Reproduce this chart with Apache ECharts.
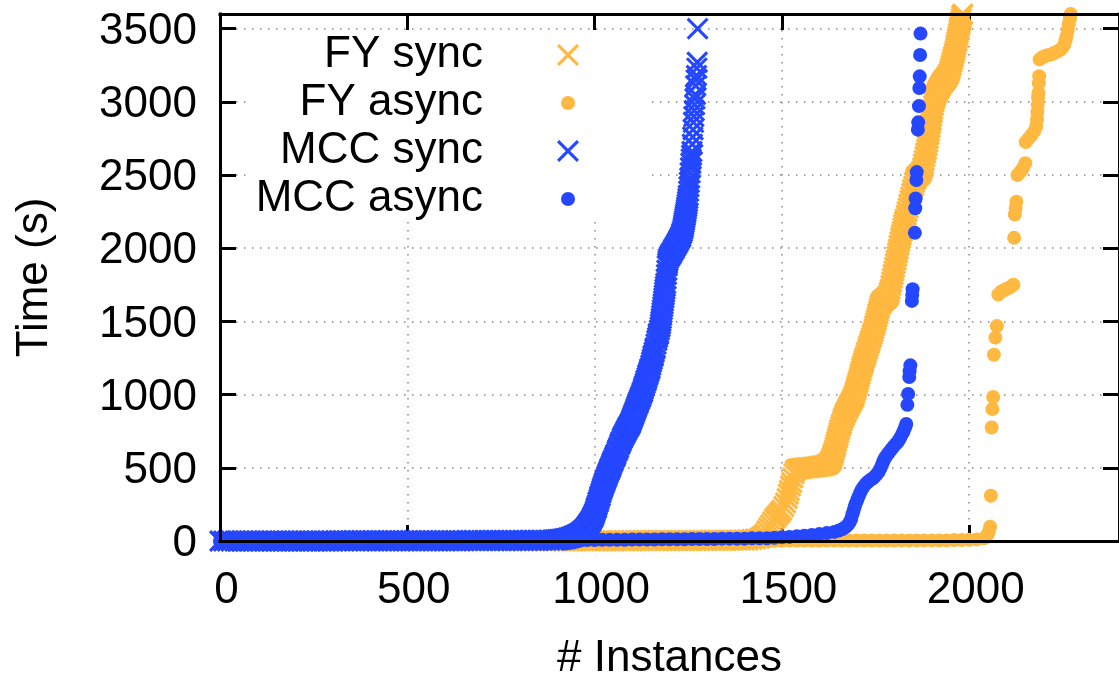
<!DOCTYPE html>
<html>
<head>
<meta charset="utf-8">
<script src="https://cdn.jsdelivr.net/npm/echarts@6/dist/echarts.min.js"></script>
<style>html,body{margin:0;padding:0;background:#fff;}#chart{width:1119px;height:686px;}</style>
</head>
<body>
<div id="chart"></div>
<script>
// ---- data: [instance rank, time (s)] ----
const seriesNames = ['FY sync', 'FY async', 'MCC sync', 'MCC async'];
const xTicks = [0, 500, 1000, 1500, 2000];
const yTicks = [0, 500, 1000, 1500, 2000, 2500, 3000, 3500];

const fySync = [
[0,0],[30,0],[60,0],[90,0],[120,0],[150,0],[180,0],[210,0],[240,0],[270,0],[300,0],[330,0],[360,0],[390,0],[420,0],[450,0],[480,0],
[510,1],[540,1],[570,1],[600,1],[630,1],[660,1],[690,1],[720,1],[750,1],[780,1],[810,1],[840,1],[870,1],
[880,1],[890,1],[900,1],[910,2],[920,2],[930,2],[940,2],[950,2],[960,2],[970,2],[980,2],[990,2],
[1000,2],[1010,2],[1020,2],[1030,2],[1040,2],[1050,2],[1060,2],[1070,2],[1080,2],[1090,2],[1100,2],
[1110,3],[1120,3],[1130,3],[1140,3],[1150,3],[1160,3],[1170,3],[1180,3],[1190,3],[1200,3],
[1210,3],[1220,3],[1230,3],[1240,3],[1250,3],[1260,3],[1270,3],[1280,3],[1290,3],[1300,3],
[1310,5],[1320,5],[1330,5],[1340,5],[1350,5],[1360,5],[1370,5],[1380,5],[1390,5],[1400,5],
[1410,7],[1420,10],[1430,14],[1440,18],
[1445,25],[1450,35],[1455,50],[1460,70],[1465,90],[1470,110],[1475,130],[1480,150],[1485,165],[1490,180],
[1495,195],[1500,210],[1505,235],[1510,260],[1514,290],[1517,320],[1520,345],[1523,375],[1526,400],[1529,430],
[1532,460],[1536,480],[1540,490],[1546,493],[1552,496],[1558,498],[1564,500],[1570,500],[1576,502],[1582,504],
[1588,506],[1594,508],[1600,510],[1606,513],[1612,516],[1618,520],[1624,528],[1627,535],[1630,545],[1632,556],[1634,570],
[1636,585],[1638,600],[1640,620],[1642,640],[1644,660],[1646,680],[1648,700],[1650,720],[1652,740],[1654,760],[1657,782],
[1659,800],[1662,822],[1664,840],[1667,858],[1670,875],[1673,890],[1676,905],[1679,920],[1682,935],[1685,950],[1688,965],
[1691,980],[1693,995],[1695,1012],[1697,1030],[1699,1048],[1701,1065],[1703,1082],[1705,1100],[1707,1120],[1709,1140],
[1711,1160],[1713,1180],[1715,1198],[1717,1215],[1719,1232],[1721,1250],[1724,1270],[1726,1290],[1729,1310],[1731,1330],
[1734,1350],[1736,1370],[1739,1390],[1741,1410],[1744,1430],[1746,1450],[1748,1470],[1750,1490],[1752,1510],[1754,1530],
[1756,1550],[1758,1570],[1760,1590],[1762,1610],[1765,1625],[1767,1635],[1770,1642],[1773,1648],[1776,1654],[1779,1660],
[1782,1668],[1785,1680],[1787,1700],[1789,1720],[1791,1745],[1793,1770],[1795,1795],[1797,1820],[1799,1845],[1801,1870],
[1803,1895],[1805,1920],[1807,1945],[1809,1970],[1811,1995],[1813,2020],[1815,2045],[1817,2070],[1819,2092],[1821,2115],
[1823,2138],[1825,2160],[1827,2180],[1829,2200],[1832,2225],[1834,2250],[1837,2275],[1839,2300],[1842,2325],[1844,2350],
[1847,2375],[1849,2400],[1852,2425],[1854,2450],[1857,2470],[1859,2485],[1862,2493],[1865,2500],[1868,2507],[1871,2515],
[1874,2530],[1876,2550],[1878,2575],[1880,2600],[1882,2625],[1884,2650],[1886,2675],[1888,2700],[1890,2725],[1891,2750],
[1893,2775],[1894,2800],[1896,2825],[1897,2850],[1899,2875],[1900,2900],[1902,2925],[1903,2950],[1905,2975],[1906,3000],
[1908,3020],[1910,3040],[1913,3055],[1915,3070],[1918,3085],[1921,3100],[1924,3112],[1927,3125],[1930,3135],[1933,3145],
[1936,3155],[1939,3165],[1942,3178],[1945,3190],[1948,3210],[1950,3230],[1952,3250],[1954,3270],[1956,3290],[1958,3310],
[1960,3330],[1962,3350],[1964,3370],[1965,3390],[1967,3410],[1968,3430],[1970,3450],[1971,3470],[1973,3490],[1974,3510],
[1976,3530],[1977,3550],[1979,3570],[1980,3590],[1983,3600]
];

const fyAsync = [
[0,0],[20,0],[40,0],[60,0],[80,0],[100,0],[120,0],[140,0],[160,0],[180,0],[200,0],[220,0],[240,0],[260,0],[280,0],
[300,0],[320,0],[340,0],[360,0],[380,0],[400,0],[420,0],[440,0],[460,0],[480,0],[500,0],
[520,1],[540,1],[560,1],[580,1],[600,1],[620,1],[640,1],[660,1],[680,1],[700,1],[720,1],[740,1],[760,1],[780,1],
[800,1],[820,1],[840,1],[860,1],[880,1],[900,1],[920,1],[940,1],[960,1],[980,1],[1000,1],
[1020,2],[1040,2],[1060,2],[1080,2],[1100,2],[1120,2],[1140,2],[1160,2],[1180,2],[1200,2],[1220,2],[1240,2],[1260,2],
[1280,2],[1300,2],[1320,2],[1340,2],[1360,2],[1380,2],[1400,2],[1420,2],[1440,2],[1460,2],[1480,2],[1500,2],
[1520,3],[1540,3],[1560,3],[1580,3],[1600,3],[1620,3],[1640,3],[1660,3],[1680,3],[1700,3],[1720,3],[1740,3],[1760,3],
[1780,3],[1800,3],[1820,4],[1840,4],[1860,4],[1880,4],[1900,4],[1920,4],[1940,4],[1960,6],[1980,6],[2000,8],
[2020,11],[2040,18],[2047,35],[2052,60],[2056,98],
[2058,309],[2060,775],[2062,901],[2064,984],[2066,1272],[2070,1389],[2074,1468],[2078,1684],[2086,1705],[2094,1715],
[2102,1725],[2110,1735],[2118,1750],[2120,2071],[2122,2230],[2124,2275],[2126,2318],[2129,2500],[2136,2520],[2143,2545],
[2150,2580],[2151,2725],[2158,2748],[2166,2772],[2174,2800],[2179,2835],[2181,2880],[2182,2930],[2183,2980],[2184,3030],
[2185,3060],[2186,3128],[2187,3175],[2188,3290],[2196,3305],[2204,3315],[2212,3320],[2220,3325],[2228,3335],[2236,3345],
[2243,3355],[2249,3370],[2254,3390],[2257,3420],[2260,3450],[2263,3490],[2266,3530],[2269,3570],[2271,3600]
];

const mccSync = [
[0,0],[10,0],[20,0],[30,0],[40,0],[50,0],[60,0],[70,0],[80,0],[90,0],
[100,0],[110,0],[120,0],[130,0],[140,0],[150,0],[160,0],[170,0],[180,0],[190,0],
[200,0],[210,0],[220,0],[230,0],[240,0],[250,0],[260,0],[270,0],[280,0],[290,0],
[300,0],[310,1],[320,1],[330,1],[340,1],[350,1],[360,1],[370,1],[380,1],[390,1],
[400,1],[410,1],[420,1],[430,1],[440,1],[450,1],[460,1],[470,1],[480,1],[490,1],
[500,1],[510,2],[520,2],[530,2],[540,2],[550,2],[560,2],[570,2],[580,2],[590,2],
[600,2],[610,2],[620,2],[630,2],[640,2],[650,2],[660,3],[670,3],[680,3],[690,3],
[700,3],[710,3],[720,3],[730,3],[740,3],[750,3],[760,4],[770,4],[780,4],[790,4],
[800,4],[810,4],[820,4],[830,5],[840,5],[850,5],[860,5],[870,5],[880,5],
[890,6],[895,7],[900,8],[905,10],[910,11],[915,13],[920,15],[925,17],[930,20],[935,24],
[940,28],[943,31],[946,34],[950,38],[953,42],[956,45],[958,48],[961,53],[963,56],[965,60],
[968,66],[970,70],[972,75],[975,83],[977,89],[979,95],[981,102],[983,110],[985,118],[987,125],
[989,132],[991,140],[993,150],[995,160],[996,165],[998,177],[1000,190],[1002,205],[1004,220],[1005,230],
[1007,245],[1009,262],[1010,270],[1012,286],[1014,302],[1015,310],[1017,328],[1019,345],[1021,360],[1023,375],
[1025,390],[1027,403],[1029,417],[1031,430],[1033,443],[1035,457],[1037,470],[1039,482],[1041,494],[1042,500],
[1044,513],[1046,527],[1048,540],[1050,551],[1053,569],[1055,580],[1057,593],[1060,612],[1062,625],[1064,638],
[1067,657],[1069,670],[1071,681],[1074,699],[1076,710],[1078,720],[1081,735],[1083,745],[1085,755],[1087,765],
[1089,775],[1091,783],[1093,792],[1095,800],[1097,813],[1099,827],[1101,840],[1103,853],[1105,867],[1107,880],
[1109,893],[1111,907],[1113,920],[1115,934],[1116,941],[1118,955],[1120,967],[1122,979],[1123,985],[1125,999],
[1127,1013],[1128,1020],[1130,1036],[1132,1052],[1133,1060],[1135,1076],[1137,1092],[1138,1100],[1140,1116],[1142,1132],
[1143,1140],[1145,1156],[1147,1172],[1148,1180],[1150,1201],[1152,1222],[1154,1241],[1156,1260],[1157,1270],[1159,1290],
[1161,1310],[1162,1320],[1164,1345],[1166,1370],[1168,1390],[1170,1410],[1171,1420],[1173,1441],[1175,1463],[1176,1482],
[1177,1501],[1178,1520],[1179,1540],[1180,1560],[1181,1580],[1182,1600],[1183,1620],[1184,1640],[1185,1660],[1186,1680],
[1187,1700],[1188,1720],[1189,1740],[1190,1760],[1191,1790],[1192,1820],[1193,1850],[1194,1880],[1195,1897],[1196,1914],
[1197,1930],[1200,1943],[1203,1956],[1205,1965],[1208,1978],[1211,1991],[1213,2000],[1216,2013],[1219,2027],[1222,2040],
[1225,2055],[1228,2070],[1230,2080],[1232,2097],[1234,2113],[1236,2130],[1237,2145],[1238,2160],[1239,2175],[1240,2190],
[1241,2205],[1242,2220],[1243,2235],[1244,2250],[1245,2267],[1246,2283],[1247,2300],[1248,2320],[1249,2340],[1250,2360],
[1251,2390],[1252,2420],[1253,2450],[1254,2480],[1255,2515],[1256,2550],[1257,2580],[1258,2610],[1259,2635],[1260,2660],
[1261,2710],[1262,2760],[1263,2810],[1264,2860],[1265,2900],[1266,2940],[1267,2980],[1268,3020],[1269,3050],[1270,3110],
[1271,3150],[1272,3180],[1273,3230],[1274,3270],[1275,3500]
];

const mccAsync = [
[0,0],[20,0],[40,0],[60,0],[80,0],[100,0],[120,0],[140,0],[160,0],[180,0],[200,0],[220,0],[240,0],[260,0],[280,0],[300,0],
[320,1],[340,1],[360,1],[380,1],[400,1],[420,1],[440,1],[460,1],[480,1],[500,1],
[520,2],[540,2],[560,2],[580,2],[600,2],[620,2],[640,2],
[660,3],[680,3],[700,3],[720,3],[740,3],[760,3],
[780,4],[800,4],[820,4],[840,4],[860,4],
[880,5],[900,5],[920,5],[940,5],[960,6],[980,6],[1000,6],
[1020,8],[1040,8],[1060,8],[1080,8],[1100,10],[1120,10],[1140,10],[1160,10],
[1180,12],[1200,12],[1220,12],[1240,12],[1260,14],[1280,14],[1300,14],[1320,14],
[1340,16],[1360,16],[1380,16],[1400,16],[1420,19],[1440,19],[1460,19],[1480,22],[1500,25],[1520,28],
[1540,32],[1560,36],[1580,41],[1600,47],[1620,54],[1640,62],
[1652,72],[1662,82],[1670,95],[1676,110],[1681,130],[1685,150],[1688,180],[1691,205],[1694,233],[1697,255],
[1701,280],[1705,305],[1709,330],[1713,350],[1718,370],[1724,390],[1730,405],[1737,418],[1743,428],[1748,440],
[1753,455],[1758,472],[1763,495],[1767,520],[1771,545],[1775,565],[1780,585],[1786,605],[1792,625],[1798,645],
[1804,662],[1810,680],[1815,700],[1820,725],[1825,750],[1829,775],[1832,800],
[1835,930],[1837,1005],[1840,1120],[1841,1160],[1843,1200],[1847,1640],[1848,1680],[1849,1720],
[1855,2105],[1856,2273],[1857,2340],[1859,2466],[1860,2520],[1863,2810],[1864,2860],[1866,2971],
[1867,3095],[1868,3174],[1869,3320],[1870,3466]
];

// ---- styling ----
const ORANGE = '#ffb840';
const BLUE = '#2447ff';
const FONT = 'Liberation Sans, Arial, Helvetica, sans-serif';
const CROSS = 'path://M0,0.1L0.1,0L1,0.9L0.9,1ZM0.9,0L1,0.1L0.1,1L0,0.9Z';
// legend icons: wide invisible box so that the gap between text and sample is large
const LEG_CROSS = 'path://M0,0M91,22M69,2.2L71.2,0L91,19.8L88.8,22ZM88.8,0L91,2.2L71.2,22L69,19.8Z';
const LEG_DOT = 'path://M0,0M91,22M87,11A7,7,0,1,1,73,11A7,7,0,1,1,87,11Z';

const chart = echarts.init(document.getElementById('chart'), null, {renderer: 'canvas'});

function scatter(name, data, color, cross) {
  return {
    name: name,
    type: 'scatter',
    data: data,
    xAxisIndex: 0,
    yAxisIndex: 0,
    symbol: cross ? CROSS : 'circle',
    symbolSize: cross ? 22 : 14,
    clip: false,
    itemStyle: {color: color, opacity: 1},
    emphasis: {disabled: true},
    animation: false
  };
}

const tickStyle = {show: true, inside: true, length: 16, lineStyle: {color: '#000', width: 3}};
const gridLine = {show: true, lineStyle: {color: '#888', width: 1.5, type: [1.5, 6.5]}};
const hiddenLine = {show: false, onZero: false};
const frameLine = {show: true, onZero: false, lineStyle: {color: '#000', width: 3, cap: 'square'}};
const noLabel = {show: false};
const noTick = {show: false};
const noSplit = {show: false};
const xScale = {type: 'value', min: 0, max: 2400, interval: 500};
const yScale = {type: 'value', min: 0, max: 3600, interval: 500};

const option = {
  backgroundColor: '#fff',
  animation: false,
  textStyle: {fontFamily: FONT},
  grid: {left: 220, right: -1, top: 14, bottom: 138.5, show: false},
  legend: {
    orient: 'vertical',
    right: 469, top: 30,
    padding: [3, 71, 1, 5],
    backgroundColor: '#fff',
    align: 'right',
    itemWidth: 91, itemHeight: 22, itemGap: 4,
    selectedMode: false,
    textStyle: {fontFamily: FONT, fontSize: 44, color: '#000', lineHeight: 40},
    data: [
      {name: seriesNames[0], icon: LEG_CROSS},
      {name: seriesNames[1], icon: LEG_DOT},
      {name: seriesNames[2], icon: LEG_CROSS},
      {name: seriesNames[3], icon: LEG_DOT}
    ]
  },
  xAxis: [
    Object.assign({position: 'bottom', z: 0,
     name: '# Instances', nameLocation: 'middle', nameGap: 96,
     nameTextStyle: {fontFamily: FONT, fontSize: 44, color: '#000'},
     axisLine: hiddenLine, axisTick: tickStyle, splitLine: gridLine,
     axisLabel: {show: true, margin: 28, fontFamily: FONT, fontSize: 44, color: '#000',
                 padding: [0, 0, 0, 13], showMaxLabel: false,
                 formatter: v => xTicks.indexOf(v) >= 0 ? String(v) : ''}}, xScale),
    Object.assign({position: 'top', z: 0, axisLine: hiddenLine, axisTick: tickStyle,
     splitLine: noSplit, axisLabel: noLabel}, xScale),
    Object.assign({position: 'bottom', z: 10, axisLine: frameLine, axisTick: noTick,
     splitLine: noSplit, axisLabel: noLabel}, xScale),
    Object.assign({position: 'top', z: 10, axisLine: frameLine, axisTick: noTick,
     splitLine: noSplit, axisLabel: noLabel}, xScale)
  ],
  yAxis: [
    Object.assign({position: 'left', z: 0,
     name: 'Time (s)', nameLocation: 'middle', nameGap: 163,
     nameTextStyle: {fontFamily: FONT, fontSize: 44, color: '#000'},
     axisLine: hiddenLine, axisTick: tickStyle, splitLine: gridLine,
     axisLabel: {show: true, margin: 23, fontFamily: FONT, fontSize: 44, color: '#000',
                 verticalAlign: 'top', lineHeight: 6, showMaxLabel: false,
                 formatter: v => yTicks.indexOf(v) >= 0 ? String(v) : ''}}, yScale),
    Object.assign({position: 'right', z: 0, axisLine: hiddenLine, axisTick: tickStyle,
     splitLine: noSplit, axisLabel: noLabel}, yScale),
    Object.assign({position: 'left', z: 10, axisLine: frameLine, axisTick: noTick,
     splitLine: noSplit, axisLabel: noLabel}, yScale),
    Object.assign({position: 'right', z: 10, axisLine: frameLine, axisTick: noTick,
     splitLine: noSplit, axisLabel: noLabel}, yScale)
  ],
  series: [
    scatter(seriesNames[0], fySync, ORANGE, true),
    scatter(seriesNames[1], fyAsync, ORANGE, false),
    scatter(seriesNames[2], mccSync, BLUE, true),
    scatter(seriesNames[3], mccAsync, BLUE, false)
  ]
};
chart.setOption(option);
</script>
</body>
</html>
